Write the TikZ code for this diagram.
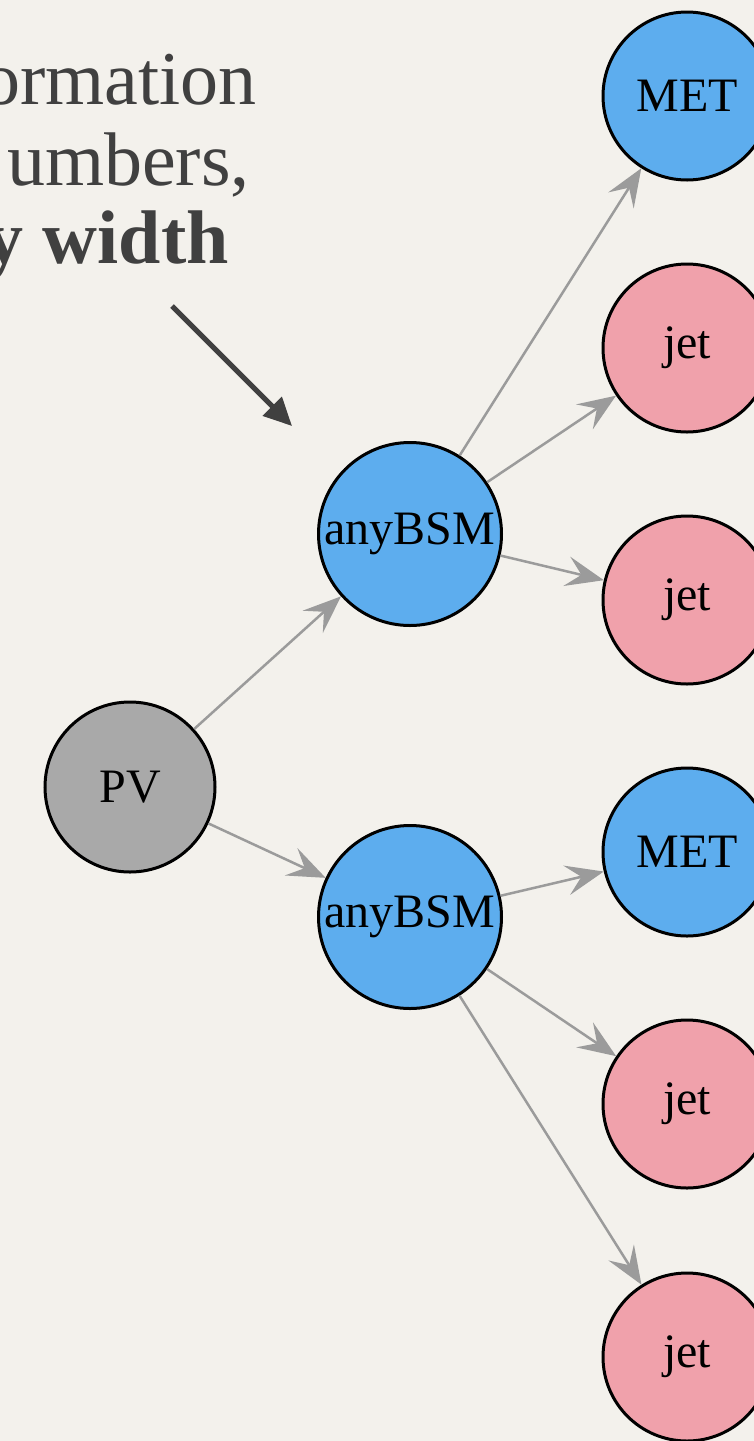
\documentclass[tikz,border=0pt]{standalone}
\usepackage{fontspec}
\newfontfamily\nodefont{Liberation Serif}
\newfontfamily\capfont{Liberation Serif}
\usetikzlibrary{arrows.meta}
\definecolor{paper}{HTML}{F3F1EC}
\definecolor{ink}{HTML}{404040}
\definecolor{bsmblue}{HTML}{5DADEE}
\definecolor{jetpink}{HTML}{F0A1AB}
\definecolor{pvgray}{HTML}{A9A9A9}
\definecolor{edgegray}{HTML}{9B9B9B}
\begin{document}
\begin{tikzpicture}[x=1pt,y=-1pt,
  particle/.style={circle, draw=black, line width=3pt, inner sep=0pt,
    font=\nodefont\fontsize{48}{48}\selectfont, text=black},
  metnode/.style={particle, fill=bsmblue, minimum size=168pt},
  jetnode/.style={particle, fill=jetpink, minimum size=168pt},
  bsmnode/.style={particle, fill=bsmblue, minimum size=183pt},
  pvnode/.style={particle, fill=pvgray, minimum size=170pt},
  edge/.style={draw=edgegray, line width=2.5pt,
    -{Stealth[length=38pt, width=30pt, inset=15pt]}},
  caption/.style={anchor=base east, text=ink, inner sep=0pt,
    font=\capfont\fontsize{76}{76}\selectfont},
  pointer/.style={draw=ink, line width=5pt,
    -{Triangle[length=28pt, width=26pt]}}]
\fill[paper] (0,0) rectangle (754,1441);
\useasboundingbox (0,0) rectangle (754,1441);
\clip (0,0) rectangle (754,1441);

% caption lines, running off the left edge
\node[caption] (line1) at (257,104) {ormation};
\node[caption] (line2) at (250,185) {umbers,};
\node[caption] (line3) at (229,263) {\bfseries y width};

% pointer into the graph
\coordinate (ptail) at (172,306);
\coordinate (phead) at (292,426);
\draw[pointer] (ptail) -- (phead);

% decay tree
\node[pvnode] (pv) at (130,787) {PV};
\node[bsmnode] (bsmA) at (410,534) {anyBSM};
\node[bsmnode] (bsmB) at (410,917) {anyBSM};

\node[metnode] (metA) at (687,96) {MET};
\node[jetnode] (jetA) at (687,348) {jet};
\node[jetnode] (jetB) at (687,600) {jet};
\node[metnode] (metB) at (687,852) {MET};
\node[jetnode] (jetC) at (687,1104) {jet};
\node[jetnode] (jetD) at (687,1357) {jet};

\draw[edge] (pv) -- (bsmA);
\draw[edge] (pv) -- (bsmB);
\draw[edge] (bsmA) -- (metA);
\draw[edge] (bsmA) -- (jetA);
\draw[edge] (bsmA) -- (jetB);
\draw[edge] (bsmB) -- (metB);
\draw[edge] (bsmB) -- (jetC);
\draw[edge] (bsmB) -- (jetD);
\end{tikzpicture}
\end{document}
